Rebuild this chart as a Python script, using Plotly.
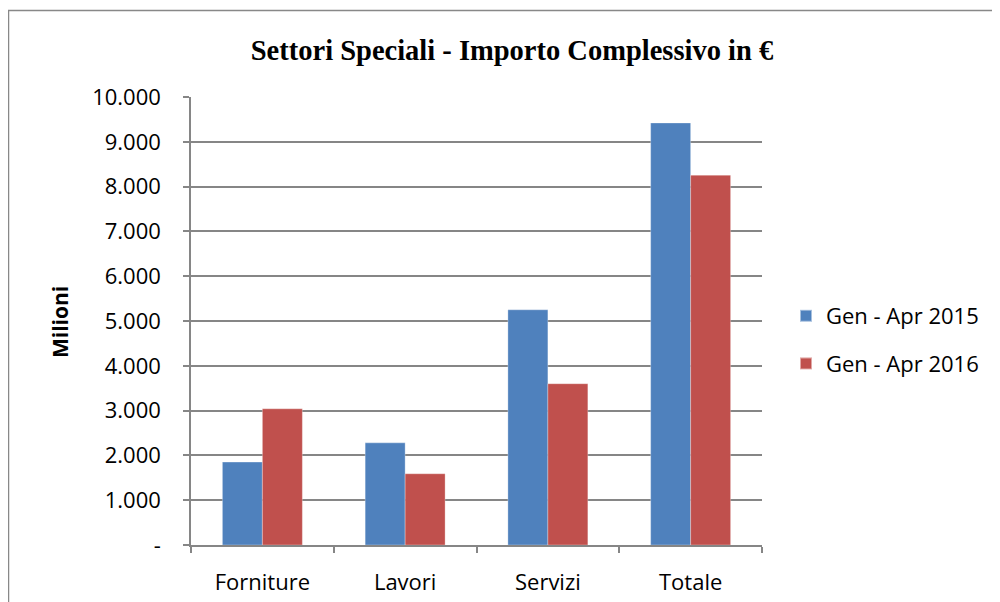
import plotly.graph_objects as go

categories = ["Forniture", "Lavori", "Servizi", "Totale"]
series_names = ["Gen - Apr 2015", "Gen - Apr 2016"]
values_2015 = [1850, 2280, 5250, 9420]
values_2016 = [3040, 1590, 3600, 8255]
y_tickvals = [0, 1000, 2000, 3000, 4000, 5000, 6000, 7000, 8000, 9000, 10000]
y_ticktext = ["-", "1.000", "2.000", "3.000", "4.000", "5.000", "6.000", "7.000", "8.000", "9.000", "10.000"]
title_text = "Settori Speciali - Importo Complessivo in €"
y_title = "Milioni"

colors = ["#4F81BD", "#C0504D"]

fig = go.Figure()
for i, (name, vals, col) in enumerate(zip(series_names, [values_2015, values_2016], colors)):
    fig.add_trace(go.Bar(
        x=categories, y=vals, name=name, legendgroup="g%d" % i,
        marker=dict(color=col, line=dict(color="rgba(255,255,255,0.5)", width=0.6)),
    ))

# page body has an 8px margin, so work in figure coordinates = screen - 8
OFF = 8
W, H = 1000 - OFF, 602 - OFF
L, T = 191 - OFF, 97 - OFF
RX, BY = 762 - OFF, 545 - OFF
R, B = W - RX, H - BY
pw = RX - L
ph = BY - T

def px_x(x):
    return (x - OFF - L) / pw

def px_y(y):
    return (BY - (y - OFF)) / ph

FONT = "Open Sans, Lato, sans-serif"

fig.update_layout(
    width=W, height=H,
    margin=dict(l=L, r=R, t=T, b=B, autoexpand=False),
    paper_bgcolor="white", plot_bgcolor="white",
    barmode="group", bargap=0.44, bargroupgap=0.0,
    font=dict(family=FONT, color="#000000", size=22),
    title=dict(
        text="<b>" + title_text + "</b>",
        font=dict(family="Liberation Serif, DejaVu Serif, serif", size=28.5, color="#000"),
        x=(512 - OFF) / W, xanchor="center", y=1 - (50 - OFF) / H, yanchor="middle",
    ),
    showlegend=True,
    legend=dict(
        x=px_x(786), y=px_y(340), xanchor="left", yanchor="middle",
        font=dict(size=22, family=FONT), tracegroupgap=16, traceorder="grouped",
        itemsizing="constant", bgcolor="rgba(0,0,0,0)",
    ),
    xaxis=dict(
        showline=True, linecolor="#868686", linewidth=1.5,
        ticks="outside", ticklen=6, tickcolor="#868686", tickwidth=1.5,
        tickson="boundaries", showgrid=False, automargin=False,
        tickfont=dict(size=22), ticklabelstandoff=17,
    ),
    yaxis=dict(
        range=[0, 10000], tickvals=y_tickvals, ticktext=y_ticktext,
        showline=True, linecolor="#868686", linewidth=1.5,
        ticks="outside", ticklen=6, tickcolor="#868686", tickwidth=1.5,
        showgrid=True, gridcolor="#868686", gridwidth=1.5, automargin=False,
        zeroline=False, tickfont=dict(size=22), ticklabelstandoff=18,
    ),
    annotations=[dict(
        text="<b>" + y_title + "</b>", textangle=-90,
        xref="paper", yref="paper", x=px_x(60), y=px_y(322),
        xanchor="center", yanchor="middle", showarrow=False,
        font=dict(size=21, family=FONT),
    )],
    shapes=[dict(
        type="rect", xref="paper", yref="paper",
        x0=px_x(8.5), x1=px_x(1200), y0=px_y(800), y1=px_y(10.5),
        line=dict(color="#888888", width=1.5), fillcolor="rgba(0,0,0,0)", layer="below",
    )],
)

fig.write_html("out.html")
